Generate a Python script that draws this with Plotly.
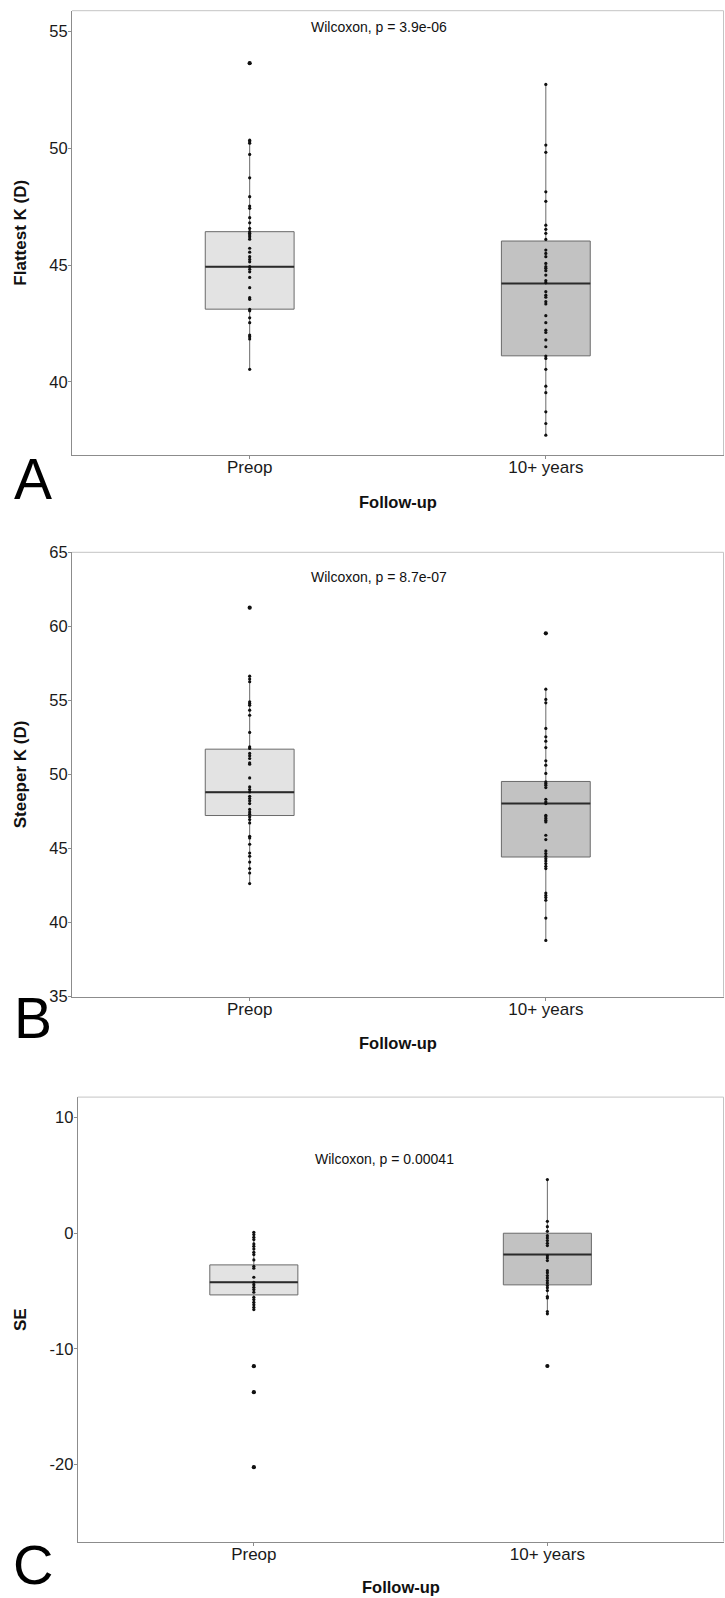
import plotly.graph_objects as go

W, H = 725, 1598

groups = ["Preop", "10+ years"]
group_pos = [1, 2]
box_width = 0.3

# ---------------- Panel A: Flattest K (D) ----------------
flat_preop = [53.65, 50.35, 50.28, 50.22, 49.74, 48.74, 47.93, 47.53, 47.43, 47.03,
              46.81, 46.57, 46.43, 46.36, 46.29, 46.21, 46.11, 45.72, 45.55, 45.36,
              45.24, 45.14, 44.93, 44.82, 44.71, 44.47, 44.03, 43.60, 43.53, 43.10,
              43.04, 42.74, 42.53, 42.00, 41.93, 41.83, 40.53]
flat_10y = [52.74, 50.14, 49.83, 48.14, 47.73, 46.71, 46.53, 46.36, 46.10, 45.64,
            45.50, 45.36, 45.07, 44.93, 44.86, 44.76, 44.57, 44.33, 44.24, 43.86,
            43.71, 43.62, 43.43, 43.33, 42.83, 42.53, 42.21, 42.11, 41.79, 41.50,
            41.10, 41.00, 40.53, 39.81, 39.53, 38.71, 38.21, 37.71]
flat_q1 = [43.11, 41.11]
flat_median = [44.93, 44.21]
flat_q3 = [46.43, 46.03]
flat_lower = [40.53, 37.71]
flat_upper = [50.35, 52.74]

# ---------------- Panel B: Steeper K (D) ----------------
steep_preop = [61.26, 56.64, 56.44, 56.26, 54.91, 54.80, 54.68, 54.34, 54.00, 52.84,
               51.86, 51.76, 51.42, 51.26, 51.08, 50.78, 50.70, 49.77, 49.16, 48.98,
               48.82, 48.53, 48.38, 48.22, 48.04, 47.64, 47.47, 47.32, 47.14, 46.96,
               46.73, 45.83, 45.72, 45.29, 44.70, 44.48, 44.09, 43.65, 43.35, 42.64]
steep_10y = [59.53, 55.76, 55.07, 54.84, 53.11, 52.54, 52.25, 51.82, 50.92, 50.63,
             50.07, 49.50, 49.39, 49.28, 49.12, 48.33, 48.15, 48.04, 47.25, 47.14,
             47.03, 46.91, 46.80, 45.90, 45.61, 44.84, 44.66, 44.48, 44.32, 44.16,
             43.99, 43.80, 43.65, 42.00, 41.84, 41.69, 41.51, 40.31, 38.80]
steep_q1 = [47.23, 44.43]
steep_median = [48.81, 48.04]
steep_q3 = [51.71, 49.53]
steep_lower = [42.64, 38.80]
steep_upper = [56.64, 55.76]

# ---------------- Panel C: SE ----------------
se_preop = [0.08, -0.12, -0.35, -0.55, -0.93, -1.13, -1.36, -1.65, -1.85, -2.31,
            -2.86, -3.03, -3.81, -4.25, -4.45, -4.68, -4.88, -5.11, -5.54, -5.74,
            -5.98, -6.18, -6.41, -6.61, -11.51, -13.76, -20.25]
se_10y = [4.64, 1.03, 0.57, 0.17, -0.21, -0.41, -0.64, -0.87, -1.07, -1.94,
          -2.14, -2.37, -3.24, -3.43, -3.67, -3.87, -4.10, -4.30, -4.53, -4.73,
          -4.96, -5.48, -5.60, -6.78, -6.98, -11.49]
se_q1 = [-5.34, -4.47]
se_median = [-4.25, -1.85]
se_q3 = [-2.74, 0.0]
se_lower = [-6.61, -6.98]
se_upper = [0.08, 4.64]

panels = [
    dict(values=[flat_preop, flat_10y], q1=flat_q1, med=flat_median, q3=flat_q3,
         lo=flat_lower, hi=flat_upper, ytitle="Flattest K (D)", letter="A",
         pval="Wilcoxon, p = 3.9e-06", pval_y=55.2,
         yrange=[36.86, 55.9], ticks=[40, 45, 50, 55],
         left=72, right=723.5, top=10.7, bottom=455,
         letter_y=479, xtitle_y=501.7),
    dict(values=[steep_preop, steep_10y], q1=steep_q1, med=steep_median, q3=steep_q3,
         lo=steep_lower, hi=steep_upper, ytitle="Steeper K (D)", letter="B",
         pval="Wilcoxon, p = 8.7e-07", pval_y=63.3,
         yrange=[35, 65], ticks=[35, 40, 45, 50, 55, 60, 65],
         left=72, right=723.5, top=552.3, bottom=996.7,
         letter_y=1018, xtitle_y=1043),
    dict(values=[se_preop, se_10y], q1=se_q1, med=se_median, q3=se_q3,
         lo=se_lower, hi=se_upper, ytitle="SE", letter="C",
         pval="Wilcoxon, p = 0.00041", pval_y=6.4,
         yrange=[-26.68, 11.78], ticks=[-20, -10, 0, 10],
         left=77.7, right=723.5, top=1097.1, bottom=1541.5,
         letter_y=None, xtitle_y=1586.5),
]

fills = ["#e3e3e3", "#c2c2c2"]
FONT = "Liberation Sans, Arial, Helvetica, sans-serif"

fig = go.Figure()
layout = dict(width=W, height=H,
              margin=dict(l=0, r=0, t=0, b=0, pad=0, autoexpand=False),
              paper_bgcolor="white", plot_bgcolor="white", showlegend=False,
              font=dict(family=FONT, color="#1a1a1a"))
annotations = []
shapes = []

for i, p in enumerate(panels):
    n = "" if i == 0 else str(i + 1)
    xa, ya = "x" + n, "y" + n
    for g in range(2):
        fig.add_trace(go.Box(
            x=[group_pos[g]], q1=[p["q1"][g]], median=[p["med"][g]], q3=[p["q3"][g]],
            lowerfence=[p["lo"][g]], upperfence=[p["hi"][g]],
            width=box_width, whiskerwidth=0, boxpoints=False,
            fillcolor=fills[g], line=dict(color="#6a6a6a", width=1),
            xaxis=xa, yaxis=ya, hoverinfo="skip"))
        half = box_width / 2
        fig.add_trace(go.Scatter(
            x=[group_pos[g] - half, group_pos[g] + half], y=[p["med"][g]] * 2,
            mode="lines", line=dict(color="#2a2a2a", width=2),
            xaxis=xa, yaxis=ya, hoverinfo="skip"))
        vals = p["values"][g]
        fig.add_trace(go.Scatter(
            x=[group_pos[g]] * len(vals), y=vals, mode="markers",
            marker=dict(color="#111111", size=3.2),
            xaxis=xa, yaxis=ya, hoverinfo="skip"))
        outl = [v for v in vals if v < p["lo"][g] or v > p["hi"][g]]
        if outl:
            fig.add_trace(go.Scatter(
                x=[group_pos[g]] * len(outl), y=outl, mode="markers",
                marker=dict(color="#111111", size=4.2),
                xaxis=xa, yaxis=ya, hoverinfo="skip"))

    xkey = "xaxis" + n
    ykey = "yaxis" + n
    layout[xkey] = dict(
        domain=[p["left"] / W, p["right"] / W], anchor=ya,
        range=[0.4, 2.6], tickvals=group_pos, ticktext=groups,
        showgrid=False, zeroline=False, showline=True, linecolor="#8c8c8c",
        linewidth=1, ticks="outside", ticklen=3, tickcolor="#8c8c8c",
        ticklabelstandoff=-6,
        tickfont=dict(size=17, color="#1a1a1a", family=FONT), fixedrange=True)
    layout[ykey] = dict(
        domain=[1 - p["bottom"] / H, 1 - p["top"] / H], anchor=xa,
        range=p["yrange"], tickvals=p["ticks"],
        ticktext=[str(t) for t in p["ticks"]],
        showgrid=False, zeroline=False, showline=True, linecolor="#8c8c8c",
        linewidth=1, ticks="outside", ticklen=3, tickcolor="#8c8c8c",
        ticklabelstandoff=-3,
        tickfont=dict(size=16.5, color="#1a1a1a", family=FONT), fixedrange=True)
    shapes.append(dict(type="line", xref=xa + " domain", yref=ya + " domain",
                       x0=0, x1=1, y0=1, y1=1, line=dict(color="#c4c4c4", width=1)))
    shapes.append(dict(type="line", xref=xa + " domain", yref=ya + " domain",
                       x0=1, x1=1, y0=0, y1=1, line=dict(color="#c4c4c4", width=1)))

    cx = (p["left"] + p["right"]) / 2
    cy = (p["top"] + p["bottom"]) / 2
    annotations.append(dict(text="<b>" + p["ytitle"] + "</b>", textangle=-90,
                            xref="paper", yref="paper", x=20.8 / W, y=1 - cy / H,
                            xanchor="center", yanchor="middle", showarrow=False,
                            font=dict(size=17, color="#111111", family=FONT)))
    annotations.append(dict(text="<b>Follow-up</b>", xref="paper", yref="paper",
                            x=cx / W, y=1 - p["xtitle_y"] / H,
                            xanchor="center", yanchor="middle", showarrow=False,
                            font=dict(size=16.5, color="#111111", family=FONT)))
    if p["letter_y"] is None:
        annotations.append(dict(text=p["letter"], xref="paper", yref="paper",
                                x=33 / W, y=0, xanchor="center", yanchor="bottom",
                                showarrow=False,
                                font=dict(size=56, color="#000000", family=FONT)))
    else:
        annotations.append(dict(text=p["letter"], xref="paper", yref="paper",
                                x=33 / W, y=1 - p["letter_y"] / H,
                                xanchor="center", yanchor="middle", showarrow=False,
                                font=dict(size=57, color="#000000", family=FONT)))
    annotations.append(dict(text=p["pval"], xref=xa + " domain", yref=ya,
                            x=(379 + (5 if i == 2 else 0) - p["left"]) / (p["right"] - p["left"]),
                            y=p["pval_y"], xanchor="center", yanchor="middle",
                            showarrow=False,
                            font=dict(size=14, color="#111111", family=FONT)))

layout["annotations"] = annotations
layout["shapes"] = shapes
fig.update_layout(**layout)
fig.write_html("out.html", config={"displayModeBar": False, "staticPlot": True},
               post_script="document.body.style.margin='0';document.body.style.overflow='hidden';")
